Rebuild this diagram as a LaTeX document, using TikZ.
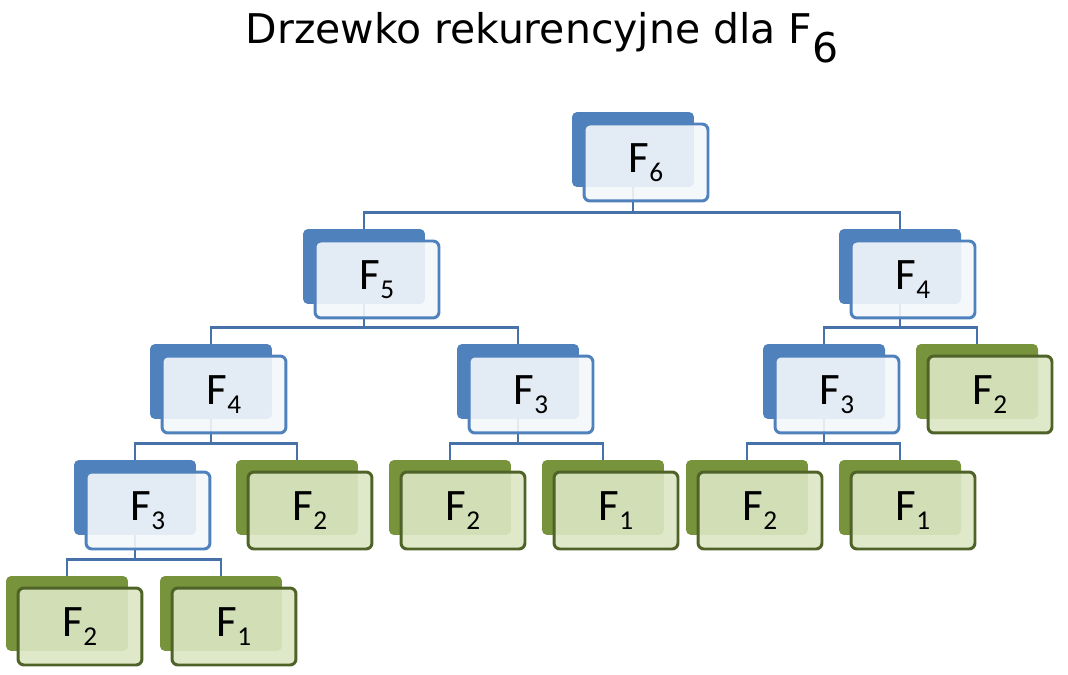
\documentclass[tikz,border=0pt]{standalone}
\usepackage{fontspec}
\setmainfont{Carlito}
\newfontfamily\titlefont{DejaVu Sans}
\usetikzlibrary{backgrounds}

\definecolor{bluedark}{HTML}{4F81BD}
\definecolor{bluelight}{HTML}{F4F7FB}
\definecolor{greendark}{HTML}{77933C}
\definecolor{greenlight}{HTML}{DCE7C4}
\definecolor{greenline}{HTML}{4F6228}
\definecolor{linkblue}{HTML}{4671A9}

\newcommand{\Fn}[1]{F\raisebox{-5pt}{\smash{\fontsize{15.5}{15.5}\selectfont #1}}}

\begin{document}
\begin{tikzpicture}[x=0.02cm,y=-0.02cm,
    back/.style={rectangle,rounded corners=0.1cm,minimum width=2.44cm,minimum height=1.5cm,inner sep=0pt},
    bback/.style={back,fill=bluedark},
    gback/.style={back,fill=greendark},
    front/.style={rectangle,rounded corners=0.12cm,minimum width=2.48cm,minimum height=1.54cm,inner sep=0pt,
      line width=1.7pt,fill opacity=0.9,text opacity=1,font=\fontsize{25.6}{30}\selectfont},
    bfront/.style={front,draw=bluedark,fill=bluelight},
    gfront/.style={front,draw=greenline,fill=greenlight},
    link/.style={draw=linkblue,line width=1.6pt}]
   \useasboundingbox (0,0) rectangle (1068,675);
   \node[anchor=base] (title) at (542,44) {\titlefont\fontsize{23.3}{28}\selectfont Drzewko rekurencyjne dla F\raisebox{-10.8pt}{6}};
   % back plates
   \node[bback] (bn) at (633,149.5) {};
   \node[bback] (bnl) at (364,266.5) {};
   \node[bback] (bnr) at (900,266.5) {};
   \node[bback] (bnll) at (211,381.5) {};
   \node[bback] (bnlr) at (518,381.5) {};
   \node[bback] (bnrl) at (824,381.5) {};
   \node[gback] (bnrr) at (977,381.5) {};
   \node[bback] (bnlll) at (135,497.5) {};
   \node[gback] (bnllr) at (297,497.5) {};
   \node[gback] (bnlrl) at (450,497.5) {};
   \node[gback] (bnlrr) at (603,497.5) {};
   \node[gback] (bnrll) at (747,497.5) {};
   \node[gback] (bnrlr) at (900,497.5) {};
   \node[gback] (bnllll) at (67,613.5) {};
   \node[gback] (bnlllr) at (221,613.5) {};
   % front cards
   \node[bfront] (n) at ([shift={(13,13)}]bn) {\Fn{6}};
   \node[bfront] (nl) at ([shift={(13,13)}]bnl) {\Fn{5}};
   \node[bfront] (nr) at ([shift={(13,13)}]bnr) {\Fn{4}};
   \node[bfront] (nll) at ([shift={(13,13)}]bnll) {\Fn{4}};
   \node[bfront] (nlr) at ([shift={(13,13)}]bnlr) {\Fn{3}};
   \node[bfront] (nrl) at ([shift={(13,13)}]bnrl) {\Fn{3}};
   \node[gfront] (nrr) at ([shift={(13,13)}]bnrr) {\Fn{2}};
   \node[bfront] (nlll) at ([shift={(13,13)}]bnlll) {\Fn{3}};
   \node[gfront] (nllr) at ([shift={(13,13)}]bnllr) {\Fn{2}};
   \node[gfront] (nlrl) at ([shift={(13,13)}]bnlrl) {\Fn{2}};
   \node[gfront] (nlrr) at ([shift={(13,13)}]bnlrr) {\Fn{1}};
   \node[gfront] (nrll) at ([shift={(13,13)}]bnrll) {\Fn{2}};
   \node[gfront] (nrlr) at ([shift={(13,13)}]bnrlr) {\Fn{1}};
   \node[gfront] (nllll) at ([shift={(13,13)}]bnllll) {\Fn{2}};
   \node[gfront] (nlllr) at ([shift={(13,13)}]bnlllr) {\Fn{1}};
   % tree links
   \begin{scope}[on background layer]
    \draw[link] (bn.center) |- ([yshift=0.32cm]bnl.north) -- (bnl.north);
    \draw[link] (bn.center) |- ([yshift=0.32cm]bnr.north) -- (bnr.north);
    \draw[link] (bnl.center) |- ([yshift=0.32cm]bnll.north) -- (bnll.north);
    \draw[link] (bnl.center) |- ([yshift=0.32cm]bnlr.north) -- (bnlr.north);
    \draw[link] (bnr.center) |- ([yshift=0.32cm]bnrl.north) -- (bnrl.north);
    \draw[link] (bnr.center) |- ([yshift=0.32cm]bnrr.north) -- (bnrr.north);
    \draw[link] (bnll.center) |- ([yshift=0.32cm]bnlll.north) -- (bnlll.north);
    \draw[link] (bnll.center) |- ([yshift=0.32cm]bnllr.north) -- (bnllr.north);
    \draw[link] (bnlr.center) |- ([yshift=0.32cm]bnlrl.north) -- (bnlrl.north);
    \draw[link] (bnlr.center) |- ([yshift=0.32cm]bnlrr.north) -- (bnlrr.north);
    \draw[link] (bnrl.center) |- ([yshift=0.32cm]bnrll.north) -- (bnrll.north);
    \draw[link] (bnrl.center) |- ([yshift=0.32cm]bnrlr.north) -- (bnrlr.north);
    \draw[link] (bnlll.center) |- ([yshift=0.32cm]bnllll.north) -- (bnllll.north);
    \draw[link] (bnlll.center) |- ([yshift=0.32cm]bnlllr.north) -- (bnlllr.north);
   \end{scope}
\end{tikzpicture}
\end{document}
